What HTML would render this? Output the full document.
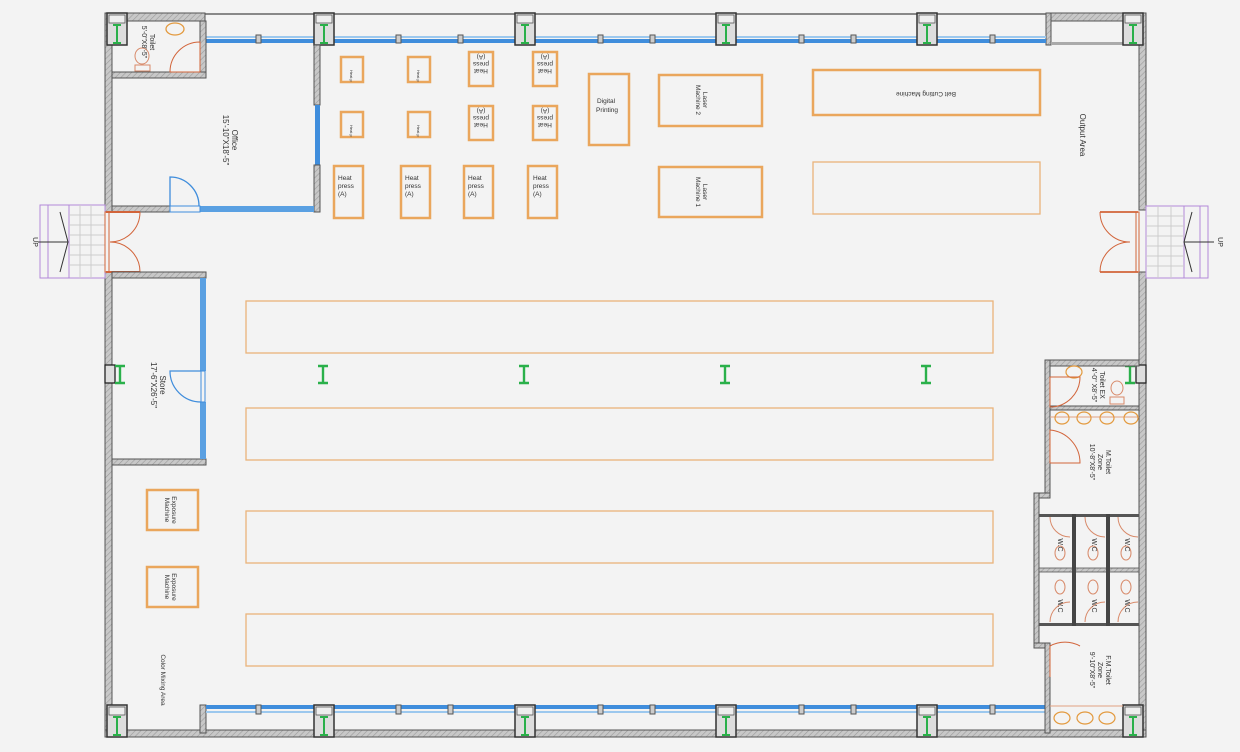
<!DOCTYPE html>
<html><head><meta charset="utf-8"><style>
html,body{margin:0;padding:0;background:#f3f3f3;}
svg{display:block;font-family:"Liberation Sans",sans-serif;}
</style></head><body>
<svg width="1240" height="752" viewBox="0 0 1240 752" xmlns="http://www.w3.org/2000/svg">
<defs>
<pattern id="h" width="4" height="4" patternUnits="userSpaceOnUse" patternTransform="rotate(45)">
<rect width="4" height="4" fill="#c8c8c8"/><line x1="0" y1="0" x2="0" y2="4" stroke="#9a9a9a" stroke-width="1.2"/></pattern>
<g id="col"><rect x="0" y="0" width="20" height="32" fill="#ddd" stroke="#333" stroke-width="1.5"/><rect x="2" y="2" width="16" height="8" fill="#eee" stroke="#555" stroke-width="0.8"/><path d="M6 12h8M10 12v18M6 30h8" stroke="#2ab04a" stroke-width="2" fill="none"/></g>
<g id="ib"><path d="M-5 0h10M0 0v17M-5 17h10" stroke="#2ab04a" stroke-width="2.4" fill="none"/></g>
</defs>
<rect width="1240" height="752" fill="#f3f3f3"/>

<!-- outer walls -->
<rect x="105" y="13" width="1041" height="2" fill="#888"/>
<rect x="105" y="13" width="100" height="8" fill="url(#h)" stroke="#555" stroke-width="1"/>
<rect x="1046" y="13" width="100" height="8" fill="url(#h)" stroke="#555" stroke-width="1"/>
<rect x="105" y="13" width="7" height="199" fill="url(#h)" stroke="#555" stroke-width="1"/>
<rect x="105" y="272" width="7" height="465" fill="url(#h)" stroke="#555" stroke-width="1"/>
<rect x="1139" y="13" width="7" height="197" fill="url(#h)" stroke="#555" stroke-width="1"/>
<rect x="1139" y="272" width="7" height="465" fill="url(#h)" stroke="#555" stroke-width="1"/>
<rect x="105" y="730" width="1041" height="7" fill="url(#h)" stroke="#555" stroke-width="1"/>
<rect x="200" y="705" width="6" height="28" fill="url(#h)" stroke="#555" stroke-width="1"/>
<rect x="1046" y="13" width="5" height="32" fill="url(#h)" stroke="#555" stroke-width="1"/>
<rect x="1051" y="42" width="88" height="3" fill="#aaa"/>

<!-- top glazing -->
<rect x="205" y="36" width="841" height="2" fill="#9cc8ee"/>
<rect x="205" y="39" width="841" height="4" fill="#3f8ddc"/>
<!-- bottom glazing -->
<rect x="206" y="705" width="840" height="4" fill="#3f8ddc"/>
<rect x="206" y="711" width="840" height="2" fill="#9cc8ee"/>
<g fill="#ccc" stroke="#555" stroke-width="1">
<rect x="256" y="35" width="5" height="8"/><rect x="396" y="35" width="5" height="8"/><rect x="458" y="35" width="5" height="8"/><rect x="598" y="35" width="5" height="8"/><rect x="650" y="35" width="5" height="8"/><rect x="799" y="35" width="5" height="8"/><rect x="851" y="35" width="5" height="8"/><rect x="990" y="35" width="5" height="8"/>
<rect x="256" y="705" width="5" height="9"/><rect x="396" y="705" width="5" height="9"/><rect x="448" y="705" width="5" height="9"/><rect x="598" y="705" width="5" height="9"/><rect x="650" y="705" width="5" height="9"/><rect x="799" y="705" width="5" height="9"/><rect x="851" y="705" width="5" height="9"/><rect x="990" y="705" width="5" height="9"/>
</g>
<!-- columns -->
<use href="#col" x="107" y="13"/><use href="#col" x="314" y="13"/><use href="#col" x="515" y="13"/><use href="#col" x="716" y="13"/><use href="#col" x="917" y="13"/><use href="#col" x="1123" y="13"/>
<use href="#col" x="107" y="705"/><use href="#col" x="314" y="705"/><use href="#col" x="515" y="705"/><use href="#col" x="716" y="705"/><use href="#col" x="917" y="705"/><use href="#col" x="1123" y="705"/>
<rect x="105" y="365" width="10" height="18" fill="#ddd" stroke="#222" stroke-width="1.3"/><use href="#ib" x="120" y="366"/>
<rect x="1136" y="365" width="10" height="18" fill="#ddd" stroke="#222" stroke-width="1.3"/><use href="#ib" x="1130" y="366"/>

<!-- toilet top-left -->
<rect x="200" y="21" width="6" height="56" fill="url(#h)" stroke="#555" stroke-width="1"/>
<rect x="112" y="72" width="94" height="6" fill="url(#h)" stroke="#555" stroke-width="1"/>
<ellipse cx="175" cy="29" rx="9" ry="6" fill="none" stroke="#e39a3f" stroke-width="1.3"/>
<rect x="135" y="65" width="15" height="6" fill="none" stroke="#d88a6a"/><ellipse cx="142" cy="56" rx="7" ry="8" fill="none" stroke="#d88a6a"/>
<path d="M200 72 V42 A30 30 0 0 0 170 72 Z" fill="none" stroke="#d2643a" stroke-width="1"/>
<text transform="translate(150,42) rotate(90)" font-size="7" text-anchor="middle" fill="#333">Toilet<tspan x="0" dy="8">5'-0"X8'-5"</tspan></text>

<!-- office -->
<rect x="314" y="45" width="6" height="60" fill="url(#h)" stroke="#555" stroke-width="1"/>
<rect x="315" y="105" width="5" height="60" fill="#3f8ddc"/>
<rect x="314" y="165" width="6" height="47" fill="url(#h)" stroke="#555" stroke-width="1"/>
<rect x="112" y="206" width="58" height="6" fill="url(#h)" stroke="#555" stroke-width="1"/>
<rect x="200" y="206" width="114" height="6" fill="#5aa0e2"/>
<path d="M170 206 V177 A29 29 0 0 1 199 206" fill="none" stroke="#3f8ddc" stroke-width="1.3"/>
<rect x="170" y="206" width="30" height="6" fill="none" stroke="#3f8ddc"/>
<text transform="translate(232,140) rotate(90)" font-size="8" text-anchor="middle" fill="#333">Office<tspan x="0" dy="9">15'-10"X18'-5"</tspan></text>

<!-- left entrance -->
<rect x="40" y="205" width="65" height="73" fill="none" stroke="#b38ad8" stroke-width="1"/>
<path d="M48 205v73M69 205v73" stroke="#b38ad8"/>
<g stroke="#ccc" stroke-width="1"><path d="M69 215h36M69 225h36M69 235h36M69 245h36M69 255h36M69 265h36M80 205v73M91 205v73"/></g>
<path d="M38 242h30M60 212l8 30-8 30" stroke="#333" fill="none" stroke-width="1"/>
<text transform="translate(33,242) rotate(90)" font-size="7" text-anchor="middle" fill="#333">UP</text>
<path d="M106 212h34M106 272h34" stroke="#d2643a" stroke-width="2"/>
<path d="M140 212 A30 30 0 0 1 110 242 M140 272 A30 30 0 0 0 110 242" fill="none" stroke="#d2643a" stroke-width="1"/>
<rect x="105" y="212" width="4" height="60" fill="none" stroke="#d2643a"/>

<!-- store -->
<rect x="112" y="272" width="94" height="6" fill="url(#h)" stroke="#555" stroke-width="1"/>
<rect x="112" y="459" width="94" height="6" fill="url(#h)" stroke="#555" stroke-width="1"/>
<rect x="200" y="278" width="6" height="93" fill="#5aa0e2"/>
<rect x="200" y="402" width="6" height="57" fill="#5aa0e2"/>
<rect x="201" y="371" width="4" height="31" fill="none" stroke="#3f8ddc"/>
<path d="M201 371 H170 A31 31 0 0 0 201 402" fill="none" stroke="#3f8ddc" stroke-width="1.2"/>
<text transform="translate(160,385) rotate(90)" font-size="8" text-anchor="middle" fill="#333">Store<tspan x="0" dy="9">17'-6"X26'-5"</tspan></text>

<!-- right entrance -->
<rect x="1146" y="206" width="62" height="72" fill="none" stroke="#b38ad8"/>
<path d="M1184 206v72M1200 206v72" stroke="#b38ad8"/>
<g stroke="#ccc"><path d="M1146 216h38M1146 226h38M1146 236h38M1146 246h38M1146 256h38M1146 266h38M1158 206v72M1171 206v72"/></g>
<path d="M1184 242h30M1192 212l-8 30 8 30" stroke="#333" fill="none"/>
<text transform="translate(1218,242) rotate(90)" font-size="7" text-anchor="middle" fill="#333">UP</text>
<path d="M1100 212h38M1100 272h38" stroke="#d2643a" stroke-width="1.8"/>
<path d="M1100 212 A30 30 0 0 0 1130 242 M1100 272 A30 30 0 0 1 1130 242" fill="none" stroke="#d2643a"/>
<rect x="1136" y="212" width="3" height="60" fill="none" stroke="#d2643a"/>
<text transform="translate(1080,135) rotate(90)" font-size="8" text-anchor="middle" fill="#333">Output Area</text>

<!-- toilet block -->
<rect x="1045" y="360" width="94" height="6" fill="url(#h)" stroke="#555"/>
<rect x="1045" y="360" width="5" height="134" fill="url(#h)" stroke="#555"/>
<rect x="1034" y="493" width="16" height="5" fill="url(#h)" stroke="#555"/>
<rect x="1034" y="493" width="5" height="153" fill="url(#h)" stroke="#555"/>
<rect x="1034" y="643" width="16" height="5" fill="url(#h)" stroke="#555"/>
<rect x="1045" y="643" width="5" height="90" fill="url(#h)" stroke="#555"/>
<rect x="1050" y="406" width="89" height="4" fill="url(#h)" stroke="#555"/>
<path d="M1050 417h89" stroke="#e0a080"/>
<g fill="none" stroke="#e39a3f" stroke-width="1.2"><ellipse cx="1062" cy="418" rx="7" ry="6"/><ellipse cx="1084" cy="418" rx="7" ry="6"/><ellipse cx="1107" cy="418" rx="7" ry="6"/><ellipse cx="1131" cy="418" rx="7" ry="6"/>
<ellipse cx="1074" cy="372" rx="8" ry="6"/><ellipse cx="1062" cy="718" rx="8" ry="6"/><ellipse cx="1085" cy="718" rx="8" ry="6"/><ellipse cx="1107" cy="718" rx="8" ry="6"/></g>
<path d="M1050 706h73" stroke="#e0a080"/>
<ellipse cx="1117" cy="388" rx="6" ry="7" fill="none" stroke="#d88a6a"/><rect x="1110" y="397" width="14" height="7" fill="none" stroke="#d88a6a"/>
<path d="M1050 377 H1080 A30 30 0 0 1 1050 407 Z" fill="none" stroke="#d2643a"/>
<path d="M1050 463 V430 A33 33 0 0 1 1080 463 Z" fill="none" stroke="#d2643a"/>
<path d="M1050 677 V646 A31 31 0 0 1 1080 646" fill="none" stroke="#d2643a"/>
<!-- WC stalls -->
<rect x="1039" y="514" width="100" height="3" fill="#555"/>
<rect x="1039" y="568" width="100" height="4" fill="url(#h)" stroke="#555" stroke-width="0.8"/>
<rect x="1039" y="623" width="100" height="3" fill="#555"/>
<rect x="1072" y="514" width="4" height="112" fill="#444"/><rect x="1106" y="514" width="4" height="112" fill="#444"/>
<g fill="none" stroke="#d88a6a">
<path d="M1050 517 A20 20 0 0 0 1070 537 M1085 517 A20 20 0 0 0 1105 537 M1118 517 A20 20 0 0 0 1138 537"/>
<path d="M1050 622 A20 20 0 0 1 1070 602 M1085 622 A20 20 0 0 1 1105 602 M1118 622 A20 20 0 0 1 1138 602"/>
<ellipse cx="1060" cy="553" rx="5" ry="7"/><ellipse cx="1093" cy="553" rx="5" ry="7"/><ellipse cx="1126" cy="553" rx="5" ry="7"/>
<ellipse cx="1060" cy="587" rx="5" ry="7"/><ellipse cx="1093" cy="587" rx="5" ry="7"/><ellipse cx="1126" cy="587" rx="5" ry="7"/>
</g>
<g font-size="7" fill="#333" text-anchor="middle">
<text transform="translate(1058,545) rotate(90)">W.C</text><text transform="translate(1092,545) rotate(90)">W.C</text><text transform="translate(1125,545) rotate(90)">W.C</text>
<text transform="translate(1058,606) rotate(90)">W.C</text><text transform="translate(1092,606) rotate(90)">W.C</text><text transform="translate(1125,606) rotate(90)">W.C</text>
<text transform="translate(1100,385) rotate(90)">Toilet EX<tspan x="0" dy="8">4'-0" X8'-5"</tspan></text>
<text transform="translate(1106,462) rotate(90)">M.Toilet<tspan x="0" dy="8">Zone</tspan><tspan x="0" dy="8">10'-8"X8'-5"</tspan></text>
<text transform="translate(1106,670) rotate(90)">F.M.Toilet<tspan x="0" dy="8">Zone</tspan><tspan x="0" dy="8">9'-10"X8'-5"</tspan></text>
</g>

<!-- tables -->
<g fill="none" stroke="#eab37a" stroke-width="1.3">
<rect x="246" y="301" width="747" height="52"/><rect x="246" y="408" width="747" height="52"/>
<rect x="246" y="511" width="747" height="52"/><rect x="246" y="614" width="747" height="52"/>
<rect x="813" y="162" width="227" height="52"/>
</g>
<use href="#ib" x="323" y="366"/><use href="#ib" x="524" y="366"/><use href="#ib" x="725" y="366"/><use href="#ib" x="926" y="366"/>

<!-- machines -->
<g fill="none" stroke="#eaa65c" stroke-width="2.5">
<rect x="341" y="57" width="22" height="25"/><rect x="408" y="57" width="22" height="25"/><rect x="469" y="52" width="24" height="34"/><rect x="533" y="52" width="24" height="34"/>
<rect x="341" y="112" width="22" height="25"/><rect x="408" y="112" width="22" height="25"/><rect x="469" y="106" width="24" height="34"/><rect x="533" y="106" width="24" height="34"/>
<rect x="334" y="166" width="29" height="52"/><rect x="401" y="166" width="29" height="52"/><rect x="464" y="166" width="29" height="52"/><rect x="528" y="166" width="29" height="52"/>
<rect x="589" y="74" width="40" height="71"/>
<rect x="659" y="75" width="103" height="51"/><rect x="659" y="167" width="103" height="50"/>
<rect x="813" y="70" width="227" height="45"/>
<rect x="147" y="490" width="51" height="40"/><rect x="147" y="567" width="51" height="40"/>
</g>
<g font-size="6.5" fill="#333">
<text x="338" y="180">Heat</text><text x="338" y="188">press</text><text x="338" y="196">(A)</text>
<text x="405" y="180">Heat</text><text x="405" y="188">press</text><text x="405" y="196">(A)</text>
<text x="468" y="180">Heat</text><text x="468" y="188">press</text><text x="468" y="196">(A)</text>
<text x="533" y="180">Heat</text><text x="533" y="188">press</text><text x="533" y="196">(A)</text>
<text x="597" y="103">Digital</text><text x="596" y="112">Printing</text>
<g text-anchor="middle">
<text transform="translate(481,69) rotate(180)">Heat<tspan x="0" dy="7">press</tspan><tspan x="0" dy="7">(A)</tspan></text>
<text transform="translate(545,69) rotate(180)">Heat<tspan x="0" dy="7">press</tspan><tspan x="0" dy="7">(A)</tspan></text>
<text transform="translate(481,123) rotate(180)">Heat<tspan x="0" dy="7">press</tspan><tspan x="0" dy="7">(A)</tspan></text>
<text transform="translate(545,123) rotate(180)">Heat<tspan x="0" dy="7">press</tspan><tspan x="0" dy="7">(A)</tspan></text>
<text transform="translate(926,92) rotate(180)">Belt Cutting Machine</text>
<text transform="translate(703,100) rotate(90)">Laser<tspan x="0" dy="7">Machine 2</tspan></text>
<text transform="translate(703,192) rotate(90)">Laser<tspan x="0" dy="7">Machine 1</tspan></text>
<text transform="translate(172,510) rotate(90)">Exposure<tspan x="0" dy="7">Machine</tspan></text>
<text transform="translate(172,587) rotate(90)">Exposure<tspan x="0" dy="7">Machine</tspan></text>
<text transform="translate(161,680) rotate(90)">Color Mixing Area</text>
</g>
<text transform="translate(350,70) rotate(90)" font-size="4">Heat p</text><text transform="translate(417,70) rotate(90)" font-size="4">Heat p</text>
<text transform="translate(350,125) rotate(90)" font-size="4">Heat p</text><text transform="translate(417,125) rotate(90)" font-size="4">Heat p</text>
</g>
</svg>
</body></html>
